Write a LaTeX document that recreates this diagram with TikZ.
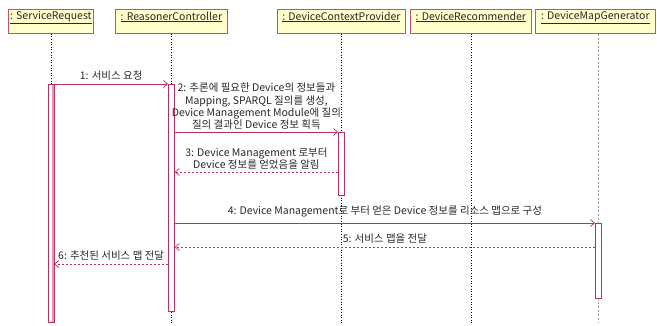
\documentclass[tikz,border=0pt]{standalone}
\usepackage{fontspec}
\setmainfont{Noto Sans CJK KR}
\usetikzlibrary{arrows.meta}
\definecolor{msgred}{RGB}{190,45,95}
\definecolor{boxedge}{RGB}{200,80,110}
\definecolor{boxfill}{RGB}{255,255,204}
\definecolor{actpink}{RGB}{228,150,180}
\definecolor{txt}{RGB}{40,40,40}
\definecolor{lifegray}{RGB}{150,150,150}

\tikzset{
  header/.style={draw=boxedge, fill=boxfill, line width=0.8pt, rectangle,
    minimum height=24pt, inner sep=0pt, anchor=north west},
  headtext/.style={anchor=north, inner sep=0pt, text=txt},
  lifeline/.style={black, line width=0.6pt, dash pattern=on 1pt off 1.6pt},
  grayline/.style={lifegray, line width=1.1pt, dash pattern=on 2pt off 2pt},
  activation/.style={draw=msgred, fill=white, line width=0.8pt, rectangle,
    minimum width=6pt, inner sep=0pt, anchor=north},
  callmsg/.style={msgred, line width=0.8pt,
    -{Straight Barb[length=4pt,width=7pt,line width=0.7pt]}},
  returnmsg/.style={callmsg, dash pattern=on 2pt off 2pt},
  msglabel/.style={text=txt, align=center, inner sep=0pt}
}

\begin{document}
\begin{tikzpicture}[x=1pt, y=-1pt, font=\fontsize{10.5}{12.3}\selectfont]
\useasboundingbox (0,0) rectangle (657,325);

% object headers
\node[header, minimum width=85pt]  (h1) at (8,9)   {};
\node[header, minimum width=112pt] (h2) at (115,9) {};
\node[header, minimum width=128pt] (h3) at (277,9) {};
\node[header, minimum width=121pt] (h4) at (410,9) {};
\node[header, minimum width=120pt] (h5) at (535,9) {};
\node[headtext] (t1) at ([yshift=-2.5pt]h1.north) {\underline{: ServiceRequest}};
\node[headtext] (t2) at ([yshift=-2.5pt]h2.north) {\underline{: ReasonerController}};
\node[headtext] (t3) at ([yshift=-2.5pt]h3.north) {\underline{: DeviceContextProvider}};
\node[headtext] (t4) at ([yshift=-2.5pt]h4.north) {\underline{: DeviceRecommender}};
\node[headtext] (t5) at ([yshift=-2.5pt]h5.north) {\underline{: DeviceMapGenerator}};

% lifelines
\coordinate (bottom) at (0,323);
\draw[lifeline] (h1.south) -- (h1.south |- bottom);
\draw[lifeline] (h2.south) -- (h2.south |- bottom);
\draw[lifeline] (h3.south) -- (h3.south |- bottom);
\draw[lifeline] (h4.south) -- (h4.south |- bottom);
\coordinate (l5) at ([xshift=3pt]h5.south);
\draw[grayline] (l5) -- (l5 |- bottom);

% activation bars
\node[activation, minimum height=238pt] (a1) at (h1.south |- 0,84)  {};
\node[activation, minimum height=227pt] (a2) at (h2.south |- 0,84)  {};
\node[activation, minimum height=63pt]  (a3) at (h3.south |- 0,132) {};
\node[activation, minimum height=75pt]  (a4) at (l5 |- 0,223)       {};
\draw[actpink, line width=1.3pt] ([xshift=-1.2pt,yshift=-0.5pt]a1.north east)
  -- ([xshift=-1.2pt,yshift=0.5pt]a1.south east);

% message rows
\coordinate (y3) at (0,172);
\coordinate (y5) at (0,247);
\coordinate (y6) at (0,264);

% messages
\draw[callmsg] (a1.north east) -- (a2.north west)
  node[msglabel, midway, above=3pt] (m1) {1: 서비스 요청};
\draw[callmsg] (a2.east |- a3.north) -- (a3.north west)
  node[msglabel, midway, above=2pt] (m2)
  {2: 추론에 필요한 Device의 정보들과\\Mapping, SPARQL 질의를 생성,\\Device Management Module에 질의\\질의 결과인 Device 정보 획득};
\draw[returnmsg] (a3.west |- y3) -- (a2.east |- y3)
  node[msglabel, midway, above=2pt] (m3)
  {3: Device Management 로부터\\Device 정보를 얻었음을 알림};
\draw[callmsg] (a2.east |- a4.north) -- (a4.north west)
  node[msglabel, midway, above=5pt] (m4)
  {4: Device Management로 부터 얻은 Device 정보를 리소스 맵으로 구성};
\draw[returnmsg] (a4.west |- y5) -- (a2.east |- y5)
  node[msglabel, midway, above=3pt] (m5) {5: 서비스 맵을 전달};
\draw[returnmsg] (a2.west |- y6) -- (a1.east |- y6)
  node[msglabel, midway, above=3pt] (m6) {6: 추천된 서비스 맵 전달};
\end{tikzpicture}
\end{document}
